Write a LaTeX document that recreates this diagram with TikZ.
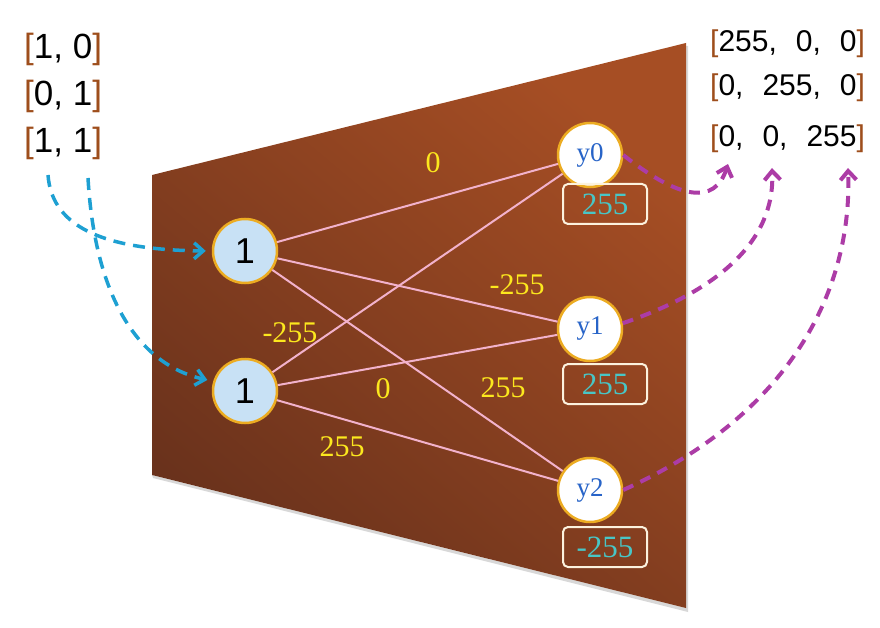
\documentclass[tikz,border=0pt]{standalone}
\usepackage{fontspec}
\setmainfont{Liberation Serif}
\setsansfont{Liberation Sans}
\usetikzlibrary{arrows.meta,positioning}

\definecolor{panelLight}{RGB}{166,78,36}
\definecolor{panelDark}{RGB}{106,50,28}
\definecolor{ringGold}{RGB}{236,172,34}
\definecolor{inFill}{RGB}{200,225,245}
\definecolor{yBlue}{RGB}{40,100,200}
\definecolor{biasTeal}{RGB}{72,198,198}
\definecolor{boxCream}{RGB}{252,242,222}
\definecolor{synPink}{RGB}{242,178,204}
\definecolor{wYellow}{RGB}{252,232,30}
\definecolor{bracketBrown}{RGB}{158,78,28}
\definecolor{feedBlue}{RGB}{30,160,210}
\definecolor{outPurple}{RGB}{172,60,166}

\newcommand{\bkt}[1]{\textcolor{bracketBrown}{[}#1\textcolor{bracketBrown}{]}}
\newcommand{\gapc}{\hspace{19pt}}

\begin{document}
\begin{tikzpicture}[
    x=1pt, y=-1pt,
    inNode/.style={
        circle,
        draw=ringGold,
        fill=inFill,
        line width=2.5pt,
        minimum size=64pt,
        inner sep=0pt,
        font=\sffamily\fontsize{36}{40}\selectfont
    },
    outNode/.style={
        circle,
        draw=ringGold,
        fill=white,
        line width=2.5pt,
        minimum size=64pt,
        inner sep=0pt,
        text=yBlue,
        font=\fontsize{27}{30}\selectfont
    },
    biasBox/.style={
        rectangle,
        draw=boxCream,
        line width=2pt,
        rounded corners=5pt,
        minimum width=84pt,
        minimum height=40pt,
        inner sep=0pt,
        text=biasTeal,
        font=\fontsize{31}{34}\selectfont
    },
    wLabel/.style={
        text=wYellow,
        inner sep=0pt,
        font=\fontsize{30}{34}\selectfont
    },
    inText/.style={
        anchor=west,
        inner sep=0pt,
        font=\sffamily\fontsize{35}{40}\selectfont
    },
    outText/.style={
        anchor=west,
        inner sep=0pt,
        font=\sffamily\fontsize{30}{36}\selectfont
    },
    synLine/.style={
        draw=synPink,
        line width=2pt
    },
    feedLine/.style={
        draw=feedBlue,
        line width=3.5pt,
        dash pattern=on 12pt off 8pt,
        -{Straight Barb[length=9pt,width=16pt,line width=3.5pt]},
        shorten >=6pt
    },
    readLine/.style={
        draw=outPurple,
        line width=4pt,
        dash pattern=on 11pt off 8pt,
        -{Straight Barb[length=9pt,width=16pt,line width=4pt]}
    }
]
\useasboundingbox (0,0) rectangle (880,628);

% ==================== LAYER PANEL ====================
\fill[black!30, opacity=0.5] (153,478) -- (688,612) -- (688,46) -- (686,46) -- (686,608) -- (152,475) -- cycle;
\shade[top color=panelLight, bottom color=panelDark, shading angle=-40]
    (152,175) -- (686,43) -- (686,608) -- (152,475) -- cycle;

% ==================== NEURONS ====================
\node[inNode] (inA) at (245,251) {1};
\node[inNode] (inB) at (245,391) {1};
\node[outNode] (outA) at (590,155) {y0};
\node[outNode] (outB) at (590,329) {y1};
\node[outNode] (outC) at (590,490) {y2};
\node[biasBox] (biasA) at (605,204) {255};
\node[biasBox] (biasB) at (605,384) {255};
\node[biasBox] (biasC) at (605,547) {-255};

% ==================== WEIGHTS ====================
\foreach \src in {inA,inB}
    \foreach \dst in {outA,outB,outC}
        \draw[synLine] (\src) -- (\dst);

\node[wLabel] (wA0) at (433,163) {0};
\node[wLabel] (wA1) at (517,285) {-255};
\node[wLabel] (wA2) at (503,388) {255};
\node[wLabel] (wB0) at (290,333) {-255};
\node[wLabel] (wB1) at (383,389) {0};
\node[wLabel] (wB2) at (342,447) {255};

% ==================== INPUTS & OUTPUTS ====================
\node[inText] (rowA) at (24,49) {\bkt{1, 0}};
\node[inText] (rowB) at (24,96) {\bkt{0, 1}};
\node[inText] (rowC) at (24,143) {\bkt{1, 1}};

\node[outText] (colA) at (710,44) {\bkt{255,\gapc 0,\gapc 0}};
\node[outText] (colB) at (710,88) {\bkt{0,\gapc 255,\gapc 0}};
\node[outText] (colC) at (710,139) {\bkt{0,\gapc 0,\gapc 255}};

\coordinate (srcA) at (48,175);
\coordinate (srcB) at (88,178);
\coordinate (tgtA) at (728,164);
\coordinate (tgtB) at (772,168);
\coordinate (tgtC) at (848,168);

\draw[feedLine] (srcA) .. controls (52,230) and (110,250) .. (inA.west);
\draw[feedLine] (srcB) .. controls (95,300) and (140,365) .. (inB.163);

\draw[readLine] (outA.east) .. controls (680,200) and (715,205) .. (tgtA);
\draw[readLine] (outB.10) .. controls (720,290) and (775,240) .. (tgtB);
\draw[readLine] (outC.east) .. controls (800,410) and (852,280) .. (tgtC);

\end{tikzpicture}
\end{document}
